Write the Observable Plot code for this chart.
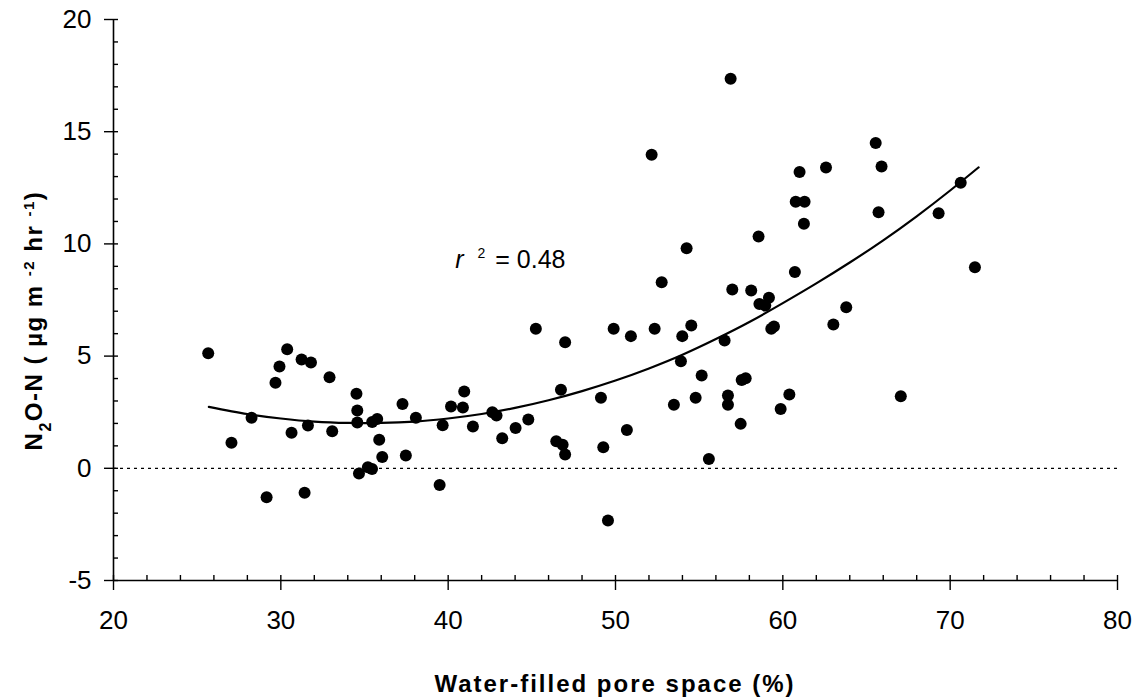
<!DOCTYPE html>
<html>
<head>
<meta charset="utf-8">
<script src="https://cdn.jsdelivr.net/npm/d3@7"></script>
<script src="https://cdn.jsdelivr.net/npm/@observablehq/plot@0.6"></script>
<style>
  html, body { margin: 0; padding: 0; background: #fff; }
</style>
</head>
<body>
<div id="chart"></div>
<script>
// Observed points: water-filled pore space (%) and N2O-N flux
const wfps = [25.66, 27.05, 28.25, 29.15, 29.68, 29.92, 30.38, 30.64, 31.24, 31.42,
  31.62, 31.8, 32.91, 33.07, 34.52, 34.57, 34.57, 34.67, 35.2, 35.45,
  35.46, 35.76, 35.88, 36.06, 37.27, 37.47, 38.07, 39.49, 39.67, 40.17,
  40.88, 40.96, 41.48, 42.64, 42.89, 43.23, 44.03, 44.79, 45.24, 46.46,
  46.74, 46.84, 46.99, 46.99, 49.13, 49.27, 49.55, 49.89, 50.68, 50.92,
  52.16, 52.34, 52.76, 53.49, 53.91, 53.99, 54.25, 54.53, 54.79, 55.15,
  55.58, 56.52, 56.72, 56.72, 56.88, 56.98, 57.48, 57.54, 57.78, 58.11,
  58.55, 58.6, 58.95, 59.17, 59.31, 59.47, 59.87, 60.39, 60.72, 60.77,
  61.0, 61.26, 61.3, 62.58, 63.02, 63.79, 65.55, 65.72, 65.9, 67.05,
  69.31, 70.63, 71.48];
const n2o = [5.13, 1.14, 2.25, -1.29, 3.81, 4.54, 5.31, 1.58, 4.85, -1.09,
  1.91, 4.71, 4.06, 1.65, 3.32, 2.58, 2.04, -0.23, 0.05, -0.03,
  2.06, 2.2, 1.27, 0.5, 2.87, 0.57, 2.25, -0.74, 1.92, 2.75,
  2.71, 3.42, 1.86, 2.5, 2.35, 1.34, 1.8, 2.17, 6.22, 1.21,
  3.5, 1.05, 0.61, 5.62, 3.14, 0.94, -2.33, 6.22, 1.71, 5.89,
  13.97, 6.22, 8.29, 2.83, 4.77, 5.89, 9.81, 6.36, 3.14, 4.14,
  0.41, 5.7, 3.24, 2.83, 17.36, 7.97, 1.98, 3.94, 4.01, 7.92,
  10.33, 7.32, 7.25, 7.6, 6.22, 6.32, 2.64, 3.29, 8.75, 11.88,
  13.2, 10.9, 11.88, 13.4, 6.41, 7.18, 14.5, 11.41, 13.45, 3.21,
  11.37, 12.72, 8.96];

// Fitted curve
const curveX = [25.7, 28, 30, 32, 34, 36, 38, 40, 42, 44, 46, 48, 50, 52, 54, 56, 58, 60, 62, 64, 66, 68, 70, 71.7];
const curveY = [2.74, 2.42, 2.22, 2.08, 2.02, 2.02, 2.08, 2.22, 2.42, 2.69, 3.03, 3.44, 3.91, 4.45, 5.06, 5.76, 6.52, 7.36, 8.24, 9.17, 10.16, 11.23, 12.38, 13.41];

// Axis ticks
const xMajorTicks = [20, 30, 40, 50, 60, 70, 80];
const xMinorTicks = [20, 22, 24, 26, 28, 30, 32, 34, 36, 38, 40, 42, 44, 46, 48, 50, 52, 54, 56, 58, 60, 62, 64, 66, 68, 70, 72, 74, 76, 78, 80];
const yMajorTicks = [-5, 0, 5, 10, 15, 20];
const yMinorTicks = [-5, -4, -3, -2, -1, 0, 1, 2, 3, 4, 5, 6, 7, 8, 9, 10, 11, 12, 13, 14, 15, 16, 17, 18, 19, 20];

// Texts
const xTitle = "Water-filled pore space (%)";
const yTitleParts = ["N", "2", "O-N ( \u00B5g m ", "-2", " hr ", "-1", ")"];
const rLabel = "r";
const rExp = "2";
const rValue = "= 0.48";
const rPos = {x: 40.45, y: 8.92};
const zeroLine = [0];

const points = wfps.map((w, i) => ({w, n: n2o[i]}));
const curve = curveX.map((x, i) => ({x, y: curveY[i]}));
const plainFormat = d => String(d);

const chart = Plot.plot({
  width: 1142,
  height: 700,
  marginLeft: 113,
  marginRight: 25,
  marginTop: 19,
  marginBottom: 120,
  style: {fontFamily: "'Liberation Sans', Arial, sans-serif", background: "#fff", color: "#000", overflow: "visible"},
  x: {domain: [20, 80]},
  y: {domain: [-5, 20]},
  marks: [
    Plot.ruleY(zeroLine, {stroke: "#000", strokeWidth: 1.3, strokeDasharray: "3,4"}),
    Plot.axisX(xMajorTicks, {tickSize: 10, tickPadding: 20, fontSize: 26, label: null, strokeWidth: 1.4, tickFormat: plainFormat}),
    Plot.axisX(xMinorTicks, {tickSize: -5, text: null, label: null, strokeWidth: 1.4}),
    Plot.axisY(yMajorTicks, {tickSize: 9, tickPadding: 13, fontSize: 26, label: null, strokeWidth: 1.4, tickFormat: plainFormat}),
    Plot.axisY(yMinorTicks, {tickSize: -5, text: null, label: null, strokeWidth: 1.4}),
    Plot.ruleX([20], {stroke: "#000", strokeWidth: 1.6}),
    Plot.ruleY([-5], {stroke: "#000", strokeWidth: 1.6}),
    Plot.line(curve, {x: "x", y: "y", curve: "natural", stroke: "#000", strokeWidth: 2.2}),
    Plot.dot(points, {x: "w", y: "n", r: 6, fill: "#000", stroke: "none"})
  ]
});

document.getElementById("chart").appendChild(chart);

const svg = d3.select(chart);
const xs = chart.scale("x");
const ys = chart.scale("y");

// x-axis title
svg.append("text")
  .attr("x", (xs.apply(20) + xs.apply(80)) / 2)
  .attr("y", ys.apply(-5) + 112)
  .attr("text-anchor", "middle")
  .attr("font-family", "'Liberation Sans', Arial, sans-serif")
  .attr("font-size", 24)
  .attr("font-weight", "bold")
  .attr("letter-spacing", 2)
  .attr("fill", "#000")
  .text(xTitle);

// y-axis title with sub/superscripts
const yCenter = (ys.apply(-5) + ys.apply(20)) / 2 + 21;
const yt = svg.append("text")
  .attr("transform", `translate(42,${yCenter}) rotate(-90)`)
  .attr("text-anchor", "middle")
  .attr("font-family", "'Liberation Sans', Arial, sans-serif")
  .attr("font-size", 24)
  .attr("font-weight", "bold")
  .attr("letter-spacing", 1.5)
  .attr("fill", "#000");
yt.append("tspan").text(yTitleParts[0]);
yt.append("tspan").attr("baseline-shift", "sub").attr("font-size", 16).text(yTitleParts[1]);
yt.append("tspan").text(yTitleParts[2]);
yt.append("tspan").attr("baseline-shift", "super").attr("font-size", 15).text(yTitleParts[3]);
yt.append("tspan").text(yTitleParts[4]);
yt.append("tspan").attr("baseline-shift", "super").attr("font-size", 15).text(yTitleParts[5]);
yt.append("tspan").text(yTitleParts[6]);

// r^2 annotation
const rt = svg.append("text")
  .attr("x", xs.apply(rPos.x))
  .attr("y", ys.apply(rPos.y))
  .attr("text-anchor", "start")
  .attr("font-family", "'Liberation Sans', Arial, sans-serif")
  .attr("font-size", 25)
  .attr("fill", "#000");
rt.append("tspan").attr("font-style", "italic").text(rLabel);
rt.append("tspan").attr("dx", 14).attr("dy", -10).attr("font-size", 14).text(rExp);
rt.append("tspan").attr("dx", 10).attr("dy", 10).text(rValue);
</script>
</body>
</html>
